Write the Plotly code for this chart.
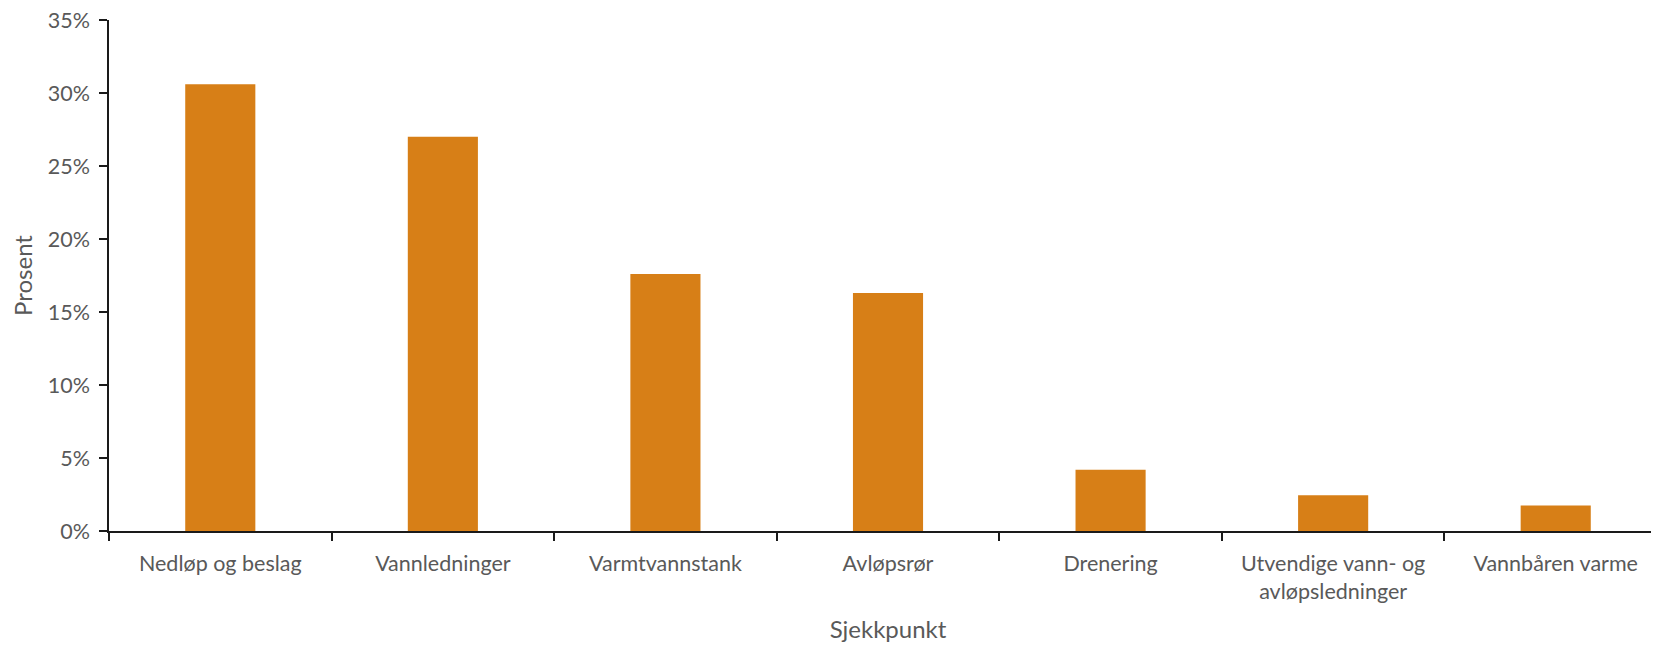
import plotly.graph_objects as go

categories = ["Nedløp og beslag", "Vannledninger", "Varmtvannstank", "Avløpsrør",
              "Drenering", "Utvendige vann- og<br>avløpsledninger", "Vannbåren varme"]
values = [30.6, 27.0, 17.6, 16.3, 4.2, 2.45, 1.75]
y_ticks = [0, 5, 10, 15, 20, 25, 30, 35]
y_tick_labels = [f"{v}%" for v in y_ticks]

font_family = "Lato, 'Open Sans', sans-serif"
text_color = "#595959"

fig = go.Figure(go.Bar(
    x=categories, y=values,
    marker=dict(color="#D77F17", line=dict(width=0)),
    width=0.315,
))

fig.update_layout(
    width=1659, height=645,
    margin=dict(l=101, r=0, t=12, b=122),
    plot_bgcolor="white", paper_bgcolor="white",
    font=dict(family=font_family, size=21.5, color=text_color),
    showlegend=False,
)
fig.update_xaxes(
    automargin=False,
    showline=True, linecolor="#1a1a1a", linewidth=1.5,
    ticks="outside", tickson="boundaries", ticklen=8, tickcolor="#1a1a1a", tickwidth=1.5,
    ticklabelstandoff=12, ticklabeloverflow="allow",
    title=dict(text="Sjekkpunkt", standoff=19, font=dict(size=24, color=text_color)),
    tickfont=dict(size=21.5, color=text_color),
)
fig.update_yaxes(
    automargin=False,
    range=[0, 35], tickvals=y_ticks, ticktext=y_tick_labels,
    showline=True, linecolor="#1a1a1a", linewidth=1.5,
    ticks="outside", ticklen=8, tickcolor="#1a1a1a", tickwidth=1.5,
    ticklabelstandoff=5, ticklabeloverflow="allow",
    showgrid=False, zeroline=False,
    title=dict(text="Prosent", standoff=14, font=dict(size=24, color=text_color)),
    tickfont=dict(size=21.5, color=text_color),
)

fig.write_html("out.html")
